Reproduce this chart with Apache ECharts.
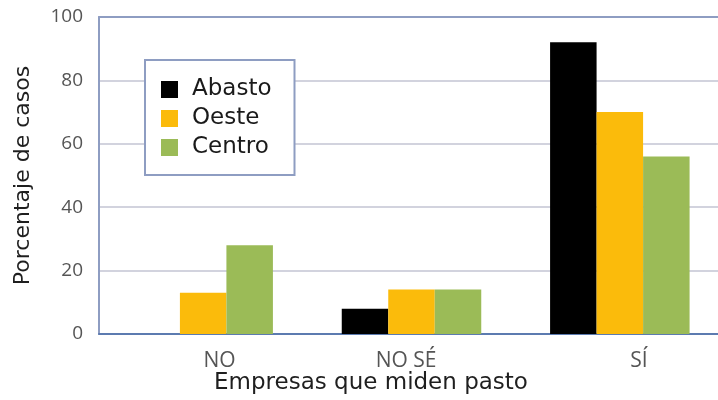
<!DOCTYPE html>
<html>
<head>
<meta charset="utf-8">
<script src="https://cdn.jsdelivr.net/npm/echarts@6/dist/echarts.min.js"></script>
<style>
html,body{margin:0;padding:0;background:#fff;overflow:hidden;width:718px;height:400px;}
#c{width:760px;height:400px;}
</style>
</head>
<body>
<div id="c"></div>
<script>
const categories = ['NO', 'NO SÉ', 'SÍ'];
const seriesNames = ['Abasto', 'Oeste', 'Centro'];
const abasto = [0, 8, 92];
const oeste = [13, 14, 70];
const centro = [28, 14, 56];
const yTicks = [0, 20, 40, 60, 80, 100];
const xTitle = 'Empresas que miden pasto';
const yTitle = 'Porcentaje de casos';

const colors = ['#000000', '#fbbb0b', '#9bbb57'];
const frameColor = '#8e9dc2';
const titleFont = '"DejaVu Sans", "Open Sans", sans-serif';
const tickFont = '"Open Sans", "Noto Sans", sans-serif';
const catFont = '"Liberation Sans Narrow", "Open Sans", sans-serif';
// number of leading / trailing non-breaking spaces used to nudge each category label
const labelNudge = [[6, 0], [0, 2], [7, 0]];

const chart = echarts.init(document.getElementById('c'));
chart.setOption({
  animation: false,
  backgroundColor: '#ffffff',
  grid: { left: 99, top: 17, width: 625, height: 317, show: false },
  legend: {
    orient: 'vertical', left: 145, top: 60,
    data: seriesNames,
    itemWidth: 17, itemHeight: 17, itemGap: 6,
    icon: 'rect',
    backgroundColor: '#fff',
    borderColor: frameColor, borderWidth: 2,
    padding: [18, 23, 16, 16],
    textStyle: { fontFamily: titleFont, fontSize: 23, color: '#1a1a1a', padding: [0, 0, 0, 9], width: 84, overflow: 'none' }
  },
  xAxis: [{
    type: 'category',
    data: categories,
    axisLine: { show: true, lineStyle: { color: '#5c7bb0', width: 2 } },
    axisTick: { show: false },
    axisLabel: {
      margin: 17,
      fontFamily: catFont, fontSize: 21, color: '#555555',
      formatter: function (v, i) {
        var n = labelNudge[i] || [0, 0];
        return '\u00a0'.repeat(n[0]) + v + '\u00a0'.repeat(n[1]);
      }
    },
    splitLine: { show: false }
  }, {
    type: 'category',
    data: categories,
    position: 'top',
    axisLine: { show: true, lineStyle: { color: frameColor, width: 2 } },
    axisTick: { show: false },
    axisLabel: { show: false },
    splitLine: { show: false }
  }],
  yAxis: {
    type: 'value', min: yTicks[0], max: yTicks[yTicks.length - 1], interval: yTicks[1] - yTicks[0],
    axisLine: { show: true, lineStyle: { color: frameColor, width: 2 } },
    axisTick: { show: false },
    axisLabel: { margin: 16, fontFamily: tickFont, fontSize: 19, color: '#555555' },
    splitLine: { show: true, lineStyle: { color: '#d2d3de', width: 2 } },
    name: yTitle,
    nameLocation: 'middle',
    nameGap: 65,
    nameTextStyle: { fontFamily: titleFont, fontSize: 22, color: '#1f1f1f' }
  },
  graphic: [{
    type: 'text', x: 371, y: 383,
    style: { text: xTitle, fontFamily: titleFont, fontSize: 23, fill: '#1f1f1f', align: 'center', verticalAlign: 'middle' },
    z: 100
  }],
  series: [
    { name: seriesNames[0], type: 'bar', data: abasto, barWidth: 46.5, barGap: '0%', itemStyle: { color: colors[0] } },
    { name: seriesNames[1], type: 'bar', data: oeste, barWidth: 46.5, barGap: '0%', itemStyle: { color: colors[1] } },
    { name: seriesNames[2], type: 'bar', data: centro, barWidth: 46.5, barGap: '0%', itemStyle: { color: colors[2] } }
  ]
});
</script>
</body>
</html>
